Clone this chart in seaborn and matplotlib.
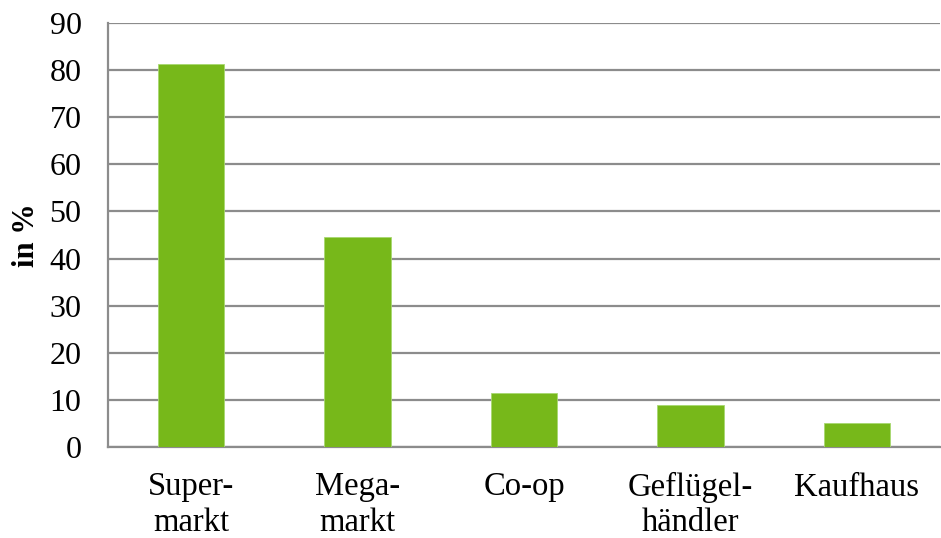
import matplotlib
matplotlib.use("Agg")
import matplotlib.pyplot as plt
import seaborn as sns
import pandas as pd

categories = ["Super-\nmarkt", "Mega-\nmarkt", "Co-op", "Geflügel-\nhändler", "Kaufhaus"]
values = [81.4, 44.6, 11.5, 9.0, 5.0]
y_ticks = [0, 10, 20, 30, 40, 50, 60, 70, 80, 90]

sns.set_theme(style="white")
plt.rcParams["font.family"] = ["Liberation Serif", "DejaVu Serif"]
plt.rcParams["text.color"] = "black"
plt.rcParams["xtick.labelcolor"] = "black"
plt.rcParams["ytick.labelcolor"] = "black"
plt.rcParams["axes.labelcolor"] = "black"

df = pd.DataFrame({"Kategorie": categories, "Anteil": values})

fig = plt.figure(figsize=(9.41, 5.38), dpi=100)
ax = fig.add_axes([108 / 941, 1 - 447 / 538, (940 - 108) / 941, (447 - 23) / 538])

grid_color = "#8c8c8c"
sns.barplot(data=df, x="Kategorie", y="Anteil", color="#77B81A", width=0.4,
            saturation=1, ax=ax, zorder=3, edgecolor="#a8d870", linewidth=0.6)

ax.set_ylim(0, 90)
ax.set_xlim(-0.5, len(categories) - 0.5)
ax.set_yticks(y_ticks)
ax.set_yticklabels([str(t) for t in y_ticks], fontsize=23, color="black")
ax.yaxis.grid(True, color=grid_color, linewidth=1.6, zorder=0)
ax.set_axisbelow(True)

# category labels centred under bars, tick marks between categories
ax.set_xticks(range(len(categories)))
ax.set_xticklabels(categories, fontsize=23.5, linespacing=1.2, color="black")
ax.tick_params(axis="x", length=0, pad=18)
ax.set_xticks([i - 0.5 for i in range(len(categories))], minor=True)
ax.tick_params(axis="x", which="minor", length=8, width=1.6, color=grid_color, direction="out")
ax.tick_params(axis="y", length=8, width=1.6, color=grid_color, direction="out", pad=11)

for side in ["top", "right"]:
    ax.spines[side].set_visible(False)
for side in ["left", "bottom"]:
    ax.spines[side].set_color(grid_color)
    ax.spines[side].set_linewidth(1.6)

ax.set_xlabel("")
ax.set_ylabel("in %", fontsize=22, fontweight="bold", labelpad=6, color="black")

fig.savefig("out.png", dpi=100)
